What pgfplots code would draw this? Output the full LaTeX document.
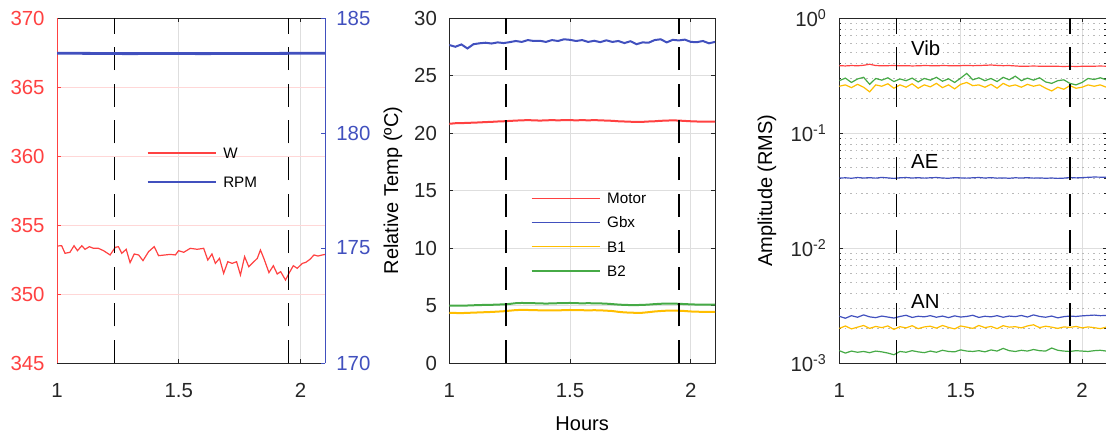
\documentclass[border=0pt]{standalone}
\usepackage{fontspec}
\setmainfont{Liberation Sans}
\usepackage{pgfplots}
\pgfplotsset{compat=1.18}
\usepackage{pgfplotstable}

\definecolor{mred}{RGB}{255,65,65}
\definecolor{mblue}{RGB}{65,80,190}
\definecolor{myellow}{RGB}{255,190,0}
\definecolor{mgreen}{RGB}{70,170,70}
\definecolor{axgray}{RGB}{38,38,38}
\definecolor{gridgray}{RGB}{222,222,222}
\definecolor{gridpink}{RGB}{255,215,215}
\definecolor{dotgray}{RGB}{185,185,185}

\pgfplotstableread{
x w
1.001 353.48
1.019 353.50
1.033 352.95
1.053 353.02
1.070 353.50
1.084 353.14
1.102 353.50
1.115 353.24
1.133 353.43
1.150 353.31
1.170 353.31
1.191 353.14
1.218 352.83
1.239 353.38
1.252 353.43
1.266 352.95
1.284 353.24
1.300 352.27
1.317 352.90
1.335 352.83
1.353 352.42
1.376 353.07
1.399 353.43
1.417 352.78
1.444 352.83
1.465 352.87
1.486 352.83
1.499 353.14
1.520 353.02
1.547 353.31
1.575 353.24
1.602 353.31
1.619 352.46
1.636 352.90
1.650 352.22
1.667 352.58
1.684 351.50
1.701 352.34
1.719 352.22
1.737 352.34
1.753 351.38
1.770 352.71
1.787 351.98
1.808 352.34
1.822 352.58
1.835 353.19
1.849 352.58
1.870 351.55
1.888 352.05
1.904 351.45
1.918 351.62
1.938 351.01
1.952 351.50
1.970 352.05
1.986 351.86
2.007 352.22
2.021 352.29
2.038 352.51
2.055 352.83
2.071 352.75
2.089 352.83
2.103 352.87
}\wtable

\pgfplotstableread{
x rpm
1.000 183.47
1.150 183.46
1.300 183.45
1.450 183.46
1.600 183.45
1.750 183.46
1.900 183.46
2.050 183.47
2.110 183.47
}\rpmtable

\pgfplotstableread{
x motor gbx b1 b2
1.000 20.80 27.65 4.36 4.98
1.025 20.85 27.50 4.35 4.99
1.050 20.86 27.70 4.34 4.98
1.075 20.88 27.35 4.36 5.00
1.100 20.90 27.72 4.38 5.02
1.125 20.92 27.80 4.40 5.04
1.150 20.95 27.85 4.42 5.05
1.175 20.97 27.78 4.44 5.06
1.200 21.00 27.88 4.47 5.08
1.225 21.02 27.82 4.50 5.10
1.250 21.05 27.90 4.55 5.14
1.275 21.08 28.00 4.60 5.20
1.300 21.10 27.92 4.62 5.22
1.325 21.12 28.08 4.61 5.21
1.350 21.10 28.00 4.60 5.20
1.375 21.08 28.02 4.58 5.18
1.400 21.10 27.92 4.57 5.17
1.425 21.12 28.08 4.58 5.18
1.450 21.10 28.00 4.57 5.20
1.475 21.12 28.15 4.60 5.21
1.500 21.12 28.10 4.61 5.22
1.525 21.10 28.00 4.60 5.20
1.550 21.12 28.08 4.59 5.19
1.575 21.10 27.92 4.58 5.20
1.600 21.12 28.02 4.59 5.19
1.625 21.10 27.90 4.58 5.18
1.650 21.08 28.06 4.55 5.16
1.675 21.06 27.92 4.52 5.12
1.700 21.02 28.00 4.45 5.08
1.725 21.00 27.82 4.40 5.05
1.750 20.98 27.98 4.38 5.04
1.775 20.96 27.72 4.36 5.04
1.800 20.97 27.88 4.37 5.05
1.825 21.00 27.85 4.42 5.08
1.850 21.02 28.08 4.48 5.12
1.875 21.06 28.15 4.52 5.15
1.900 21.08 27.88 4.55 5.17
1.925 21.10 28.10 4.56 5.16
1.950 21.08 28.05 4.55 5.15
1.975 21.05 28.12 4.52 5.12
2.000 21.02 27.92 4.48 5.10
2.025 21.00 27.90 4.46 5.08
2.050 21.00 28.00 4.45 5.08
2.075 20.98 27.80 4.44 5.07
2.100 21.00 27.92 4.45 5.08
}\temptable

\pgfplotstableread{
x vibr vibg viby ae anb any ang
1.000 0.385 0.285 0.255 0.0405 0.00255 0.00200 0.00128
1.025 0.383 0.300 0.262 0.0408 0.00245 0.00210 0.00122
1.050 0.386 0.275 0.248 0.0404 0.00258 0.00198 0.00127
1.075 0.384 0.295 0.265 0.0410 0.00250 0.00205 0.00124
1.100 0.388 0.305 0.250 0.0406 0.00262 0.00212 0.00126
1.125 0.396 0.265 0.228 0.0409 0.00252 0.00200 0.00123
1.150 0.386 0.298 0.262 0.0405 0.00248 0.00208 0.00127
1.175 0.384 0.288 0.255 0.0411 0.00256 0.00203 0.00125
1.200 0.385 0.302 0.268 0.0407 0.00251 0.00210 0.00122
1.225 0.386 0.280 0.245 0.0403 0.00246 0.00196 0.00118
1.250 0.384 0.295 0.262 0.0408 0.00254 0.00207 0.00126
1.275 0.385 0.285 0.250 0.0410 0.00260 0.00202 0.00124
1.300 0.383 0.300 0.268 0.0406 0.00249 0.00211 0.00128
1.325 0.384 0.278 0.245 0.0409 0.00255 0.00199 0.00125
1.350 0.386 0.298 0.262 0.0405 0.00252 0.00206 0.00123
1.375 0.385 0.288 0.252 0.0408 0.00258 0.00209 0.00127
1.400 0.384 0.305 0.270 0.0410 0.00250 0.00201 0.00124
1.425 0.386 0.282 0.248 0.0406 0.00256 0.00212 0.00129
1.450 0.385 0.296 0.262 0.0404 0.00248 0.00204 0.00126
1.475 0.384 0.275 0.242 0.0409 0.00257 0.00198 0.00125
1.500 0.385 0.300 0.265 0.0407 0.00251 0.00210 0.00130
1.525 0.387 0.330 0.275 0.0405 0.00254 0.00205 0.00127
1.550 0.385 0.290 0.258 0.0408 0.00260 0.00200 0.00126
1.575 0.386 0.302 0.262 0.0410 0.00249 0.00212 0.00128
1.600 0.388 0.285 0.250 0.0406 0.00255 0.00203 0.00125
1.625 0.390 0.298 0.265 0.0409 0.00252 0.00208 0.00130
1.650 0.387 0.280 0.245 0.0405 0.00258 0.00199 0.00127
1.675 0.385 0.305 0.270 0.0407 0.00250 0.00211 0.00134
1.700 0.386 0.290 0.255 0.0404 0.00256 0.00205 0.00128
1.725 0.383 0.312 0.262 0.0408 0.00253 0.00207 0.00126
1.750 0.380 0.285 0.250 0.0406 0.00259 0.00202 0.00129
1.775 0.381 0.300 0.265 0.0409 0.00251 0.00210 0.00127
1.800 0.382 0.288 0.255 0.0405 0.00262 0.00215 0.00131
1.825 0.381 0.302 0.262 0.0407 0.00254 0.00203 0.00128
1.850 0.380 0.278 0.245 0.0404 0.00250 0.00209 0.00127
1.875 0.381 0.270 0.232 0.0406 0.00256 0.00205 0.00135
1.900 0.380 0.285 0.250 0.0403 0.00247 0.00200 0.00129
1.925 0.379 0.290 0.240 0.0405 0.00253 0.00206 0.00127
1.950 0.380 0.270 0.258 0.0410 0.00256 0.00204 0.00126
1.975 0.379 0.262 0.245 0.0407 0.00254 0.00208 0.00128
2.000 0.380 0.275 0.250 0.0409 0.00257 0.00202 0.00127
2.025 0.380 0.298 0.262 0.0412 0.00259 0.00206 0.00126
2.050 0.381 0.292 0.255 0.0414 0.00261 0.00203 0.00128
2.075 0.382 0.302 0.262 0.0413 0.00258 0.00199 0.00129
2.100 0.381 0.290 0.250 0.0413 0.00259 0.00205 0.00127
}\amptable

\pgfplotsset{
  base/.style={
    scale only axis, height=172.5pt, anchor=south west,
    xmin=1, xmax=2.1, xtick={1,1.5,2},
    tick align=inside, major tick length=1.8pt, minor tick length=1pt,
    axis line style={axgray, line width=0.45pt},
    every tick/.style={axgray, line width=0.45pt},
    every tick label/.append style={font=\fontsize{10.2}{12}\selectfont, text=axgray, inner sep=0pt},
    xticklabel style={anchor=north, yshift=-10pt},
    /pgf/number format/assume math mode=true,
    grid style={gridgray, line width=0.45pt},
    label style={font=\fontsize{11.3}{13}\selectfont, text=axgray, inner sep=0pt},
    legend image code/.code={\draw[#1, line width=0.6pt] (0pt,2.7pt) -- (34pt,2.7pt);},
    vline/.style={black, line width=0.75pt, dash pattern=on 11.5pt off 6.8pt, forget plot},
  },
}

\begin{document}
\begin{tikzpicture}
\useasboundingbox (0,0) rectangle (553pt,217pt);

% ---------- Panel 1: left (W) ----------
\begin{axis}[base, at={(28.5pt,35.5pt)}, width=134pt,
  ymin=345, ymax=370, ytick={345,350,...,370}, ytick pos=left,
  separate axis lines,
  y axis line style={draw=mred},
  ytick style={mred},
  yticklabel style={anchor=east, xshift=-6pt, text=mred},
  xmajorgrids, ymajorgrids,
  major x grid style={gridgray},
  major y grid style={gridpink},
]
\addplot[mred, line width=0.6pt] table[x=x, y=w] {\wtable};
\addplot[vline] coordinates {(1.235,345) (1.235,370)};
\addplot[vline] coordinates {(1.951,345) (1.951,370)};
\end{axis}

% ---------- Panel 1: right (RPM) ----------
\begin{axis}[base, at={(28.5pt,35.5pt)}, width=134pt,
  ymin=170, ymax=185, ytick={170,175,180,185},
  axis y line*=right, axis x line=none,
  axis line style={mblue, line width=0.45pt},
  ytick style={mblue},
  yticklabel style={anchor=west, xshift=5.5pt, text=mblue},
  legend style={draw=none, fill=none, inner sep=0pt, outer sep=0pt,
    at={(0.336,0.6255)}, anchor=north west, row sep=8.9pt, column sep=3.5pt,
    font=\fontsize{7.6}{9}\selectfont, text=black,
    nodes={inner sep=0pt, text height=5.6pt, text depth=0pt, anchor=base west}},
]
\addlegendimage{mred}
\addlegendentry{W}
\addplot[mblue, line width=1.4pt] table[x=x, y=rpm] {\rpmtable};
\addlegendentry{RPM}
\end{axis}

% ---------- Panel 2: temperatures ----------
\begin{axis}[base, at={(224.65pt,35.5pt)}, width=132.85pt,
  ymin=0, ymax=30, ytick={0,5,...,30},
  yticklabel style={anchor=east, xshift=-6pt},
  xmajorgrids, ymajorgrids,
  xlabel={Hours}, ylabel={Relative Temp (ºC)},
  every axis x label/.style={at={(axis description cs:0.5,0)}, anchor=base, yshift=-33.5pt},
  every axis y label/.style={at={(axis description cs:-0.1927,0.5)}, rotate=90, anchor=base},
  legend style={draw=none, fill=none, inner sep=0pt, outer sep=0pt,
    at={(0.3075,0.494)}, anchor=north west, row sep=6.5pt, column sep=3.5pt,
    font=\fontsize{7.6}{9}\selectfont, text=black,
    nodes={inner sep=0pt, text height=5.6pt, text depth=0pt, anchor=base west}},
]
\addplot[mred, line width=1pt] table[x=x, y=motor] {\temptable};
\addlegendentry{Motor}
\addplot[mblue, line width=1pt] table[x=x, y=gbx] {\temptable};
\addlegendentry{Gbx}
\addplot[myellow, line width=1pt] table[x=x, y=b1] {\temptable};
\addlegendentry{B1}
\addplot[mgreen, line width=1pt] table[x=x, y=b2] {\temptable};
\addlegendentry{B2}
\addplot[vline] coordinates {(1.235,0) (1.235,30)};
\addplot[vline] coordinates {(1.951,0) (1.951,30)};
\end{axis}

% ---------- Panel 3: amplitudes (log) ----------
\begin{axis}[base, at={(419.65pt,35.5pt)}, width=133.5pt,
  ymode=log, ymin=1e-3, ymax=1,
  ytick={1e-3,1e-2,1e-1,1},
  yticklabels={10\textsuperscript{-3},10\textsuperscript{-2},10\textsuperscript{-1},10\textsuperscript{0}},
  minor ytick={2e-3,3e-3,4e-3,5e-3,6e-3,7e-3,8e-3,9e-3,2e-2,3e-2,4e-2,5e-2,6e-2,7e-2,8e-2,9e-2,2e-1,3e-1,4e-1,5e-1,6e-1,7e-1,8e-1,9e-1},
  yticklabel style={anchor=east, xshift=-6pt},
  xmajorgrids, ymajorgrids, yminorgrids,
  minor grid style={dotgray, line width=0.5pt, dash pattern=on 0.8pt off 1.9pt},
  ylabel={Amplitude (RMS)},
  every axis y label/.style={at={(axis description cs:-0.252,0.5)}, rotate=90, anchor=base},
]
\addplot[mred, line width=0.6pt] table[x=x, y=vibr] {\amptable};
\addplot[myellow, line width=0.6pt] table[x=x, y=viby] {\amptable};
\addplot[mgreen, line width=0.6pt] table[x=x, y=vibg] {\amptable};
\addplot[mblue, line width=0.6pt] table[x=x, y=ae] {\amptable};
\addplot[mblue, line width=0.6pt] table[x=x, y=anb] {\amptable};
\addplot[myellow, line width=0.6pt] table[x=x, y=any] {\amptable};
\addplot[mgreen, line width=0.6pt] table[x=x, y=ang] {\amptable};
\addplot[vline] coordinates {(1.235,1e-3) (1.235,1)};
\addplot[vline] coordinates {(1.951,1e-3) (1.951,1)};
\node[anchor=west, fill=white, inner sep=1.5pt, font=\fontsize{10.2}{12}\selectfont, text=black] at (axis cs:1.282,0.545) {Vib};
\node[anchor=west, fill=white, inner sep=1.5pt, font=\fontsize{10.2}{12}\selectfont, text=black] at (axis cs:1.282,0.056) {AE};
\node[anchor=west, fill=white, inner sep=1.5pt, font=\fontsize{10.2}{12}\selectfont, text=black] at (axis cs:1.282,0.00341) {AN};
\end{axis}
\end{tikzpicture}
\end{document}
